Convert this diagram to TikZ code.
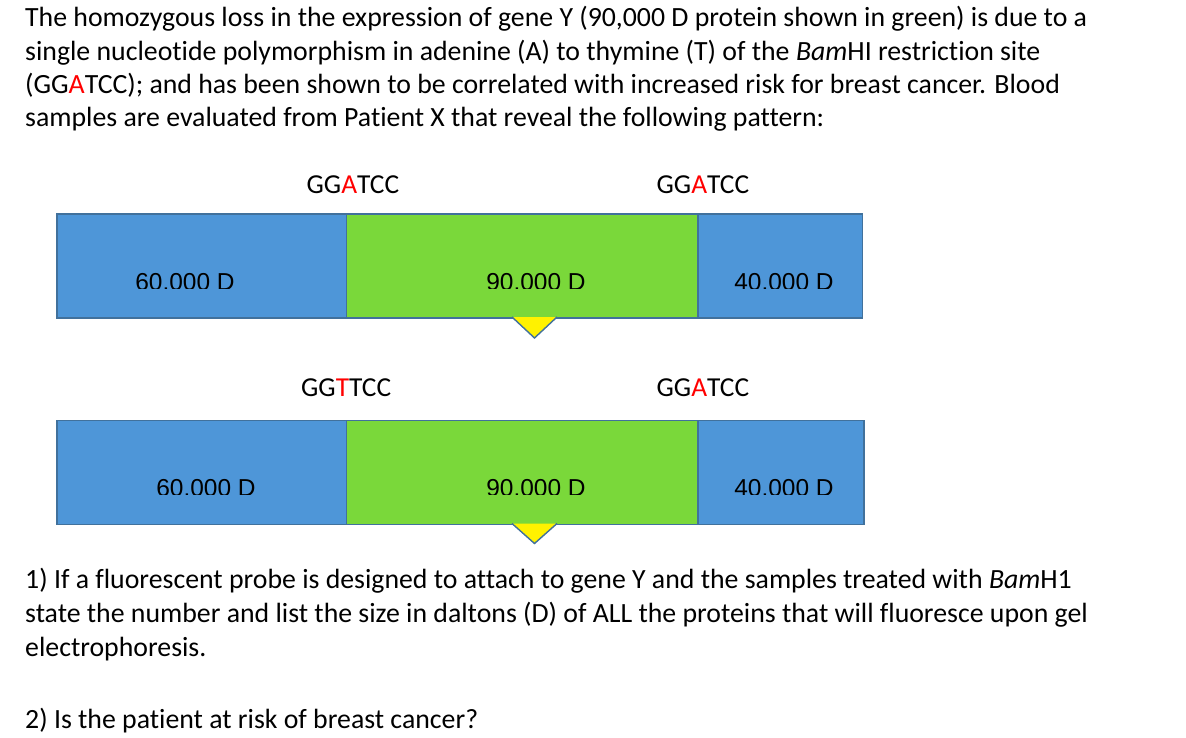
\documentclass[tikz,border=0pt]{standalone}
\usepackage{fontspec}
\setmainfont{Carlito}[Ligatures=NoCommon]
\newfontfamily\labfont{Liberation Sans}
\definecolor{boxblue}{RGB}{78,150,216}
\definecolor{boxgreen}{RGB}{122,216,58}
\definecolor{edgeblue}{RGB}{65,113,156}
\begin{document}
\begin{tikzpicture}[x=1pt,y=-1pt,
  body/.style={anchor=base west,inner sep=0pt,font=\fontsize{27.8}{32}\selectfont},
  seq/.style={anchor=base west,inner sep=0pt,font=\fontsize{27.4}{32}\selectfont},
  seg/.style={draw=edgeblue,line width=1.6pt,anchor=north west,inner sep=0pt,minimum height=104pt},
  lab/.style={anchor=base,inner sep=0pt,font=\labfont\fontsize{24.5}{28}\selectfont},
  tri/.style={draw=edgeblue,fill=yellow,line width=1.4pt,line join=miter}]
\useasboundingbox (0,0) rectangle (1186,738);
\fill[white] (0,0) rectangle (1186,738);
% intro text
\node[body] (t1) at (25,27) {The homozygous loss in the expression of gene Y (90,000 D protein shown in green) is due to a};
\node[body] (t2) at (25,60.5) {single nucleotide polymorphism in adenine (A) to thymine (T) of the \textit{Bam}HI restriction site};
\node[body] (t3) at (25,93.5) {(GG{\color{red}A}TCC); and has been shown to be correlated with increased risk for breast cancer. Blood};
\node[body] (t4) at (25,127) {samples are evaluated from Patient X that reveal the following pattern:};
% row 1
\node[seq] (s1) at (306.5,193.5) {GG{\color{red}A}TCC};
\node[seq] (s2) at (656.5,193.5) {GG{\color{red}A}TCC};
\node[seg,fill=boxblue,minimum width=289.5pt] (a1) at (56,213) {};
\node[seg,fill=boxgreen,minimum width=351.5pt] (a2) at (345.5,213) {};
\node[seg,fill=boxblue,minimum width=164.5pt] (a3) at (697,213) {};
\coordinate (p1) at (512,317);
\coordinate (p2) at (557,317);
\coordinate (p3) at (534.5,338);
\draw[tri] (p1) -- (p3) -- (p2);
\begin{scope}
\clip (56,213) rectangle (862,288.2);
\node[lab] (l1) at (185,290) {60.000 D};
\node[lab] (l2) at (536,290) {90.000 D};
\node[lab] (l3) at (784,290) {40.000 D};
\end{scope}
% row 2
\node[seq] (s3) at (301,396) {GG{\color{red}T}TCC};
\node[seq] (s4) at (656.5,396) {GG{\color{red}A}TCC};
\node[seg,fill=boxblue,minimum width=289.5pt] (b1) at (56,419.5) {};
\node[seg,fill=boxgreen,minimum width=351.5pt] (b2) at (345.5,419.5) {};
\node[seg,fill=boxblue,minimum width=166pt] (b3) at (697,419.5) {};
\coordinate (q1) at (512,523.5);
\coordinate (q2) at (557,523.5);
\coordinate (q3) at (534.5,543.5);
\draw[tri] (q1) -- (q3) -- (q2);
\begin{scope}
\clip (56,419.5) rectangle (862,494.2);
\node[lab] (m1) at (206,496) {60.000 D};
\node[lab] (m2) at (536,496) {90.000 D};
\node[lab] (m3) at (784,496) {40.000 D};
\end{scope}
% questions
\node[body] (u1) at (25,588.5) {1) If a fluorescent probe is designed to attach to gene Y and the samples treated with \textit{Bam}H1};
\node[body] (u2) at (25,622.5) {state the number and list the size in daltons (D) of ALL the proteins that will fluoresce upon gel};
\node[body] (u3) at (25,656) {electrophoresis.};
\node[body] (u4) at (25,728) {2) Is the patient at risk of breast cancer?};
\end{tikzpicture}
\end{document}
